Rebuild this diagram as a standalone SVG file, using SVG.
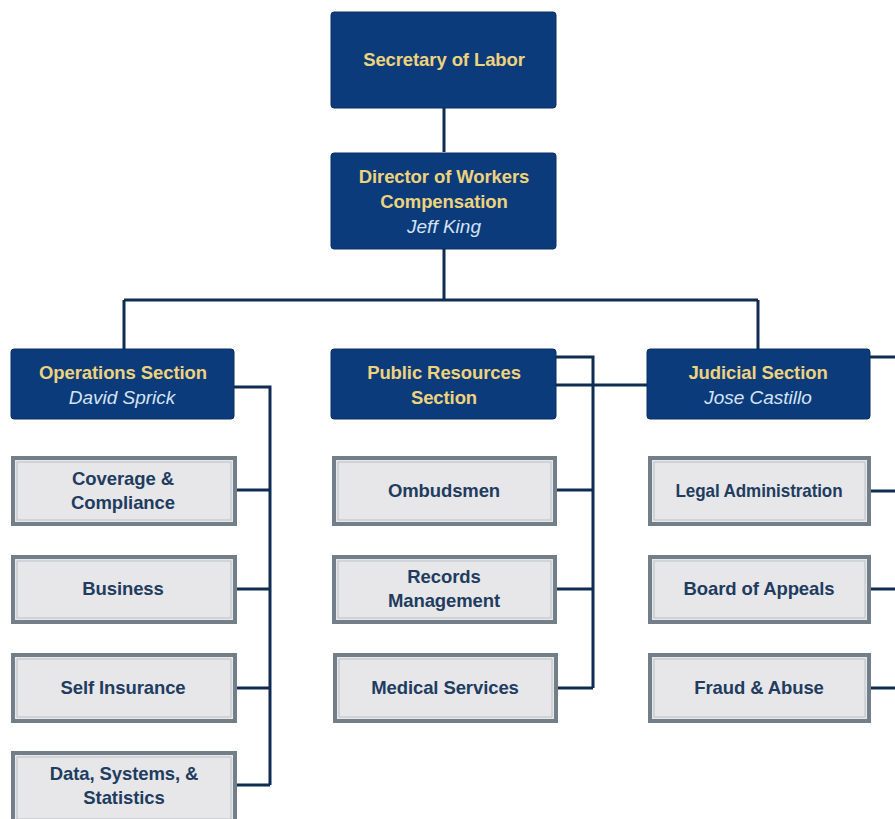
<svg xmlns="http://www.w3.org/2000/svg" width="895" height="819" viewBox="0 0 895 819">
<style>
.hd rect{fill:#0b3b7a;stroke:#0a2f63;stroke-width:1}
.hd .t{font-family:"Liberation Sans",Arial,sans-serif;font-weight:bold;font-size:18.5px;fill:#eed37e;text-anchor:middle;letter-spacing:-0.1px}
.hd .n{font-family:"Liberation Sans",Arial,sans-serif;font-style:italic;font-size:19px;fill:#d4e3f5;text-anchor:middle}
.ch .o{fill:#e7e7ea;stroke:#737f88;stroke-width:4}
.ch .i{fill:none;stroke:#b9c0c6;stroke-width:1}
.ch text{font-family:"Liberation Sans",Arial,sans-serif;font-weight:bold;font-size:18.5px;fill:#213c5f;text-anchor:middle;letter-spacing:-0.1px}
#connectors path{fill:none;stroke:#0f2d52;stroke-width:3}
</style>
<rect width="895" height="819" fill="#ffffff"/>
<g id="connectors">
<path d="M444 108V152M444 249V300M124 300H758M124 300V349M758 300V349"/>
<path d="M234 387H270V785M236 490H270M236 589H270M236 688H270M236 785H270"/>
<path d="M556 357H593V688M556 490H593M556 589H593M556 688H593M556 385H647"/>
<path d="M870 357H895M870 491H895M870 589H895M870 688H895"/>
</g>
<g id="secretary" class="hd"><rect x="331" y="12" width="225" height="96" rx="3"/><text class="t" x="444" y="66">Secretary of Labor</text></g>
<g id="director" class="hd"><rect x="331" y="153" width="225" height="96" rx="3"/><text class="t" x="444" y="183">Director of Workers</text><text class="t" x="444" y="208">Compensation</text><text class="n" x="444" y="233">Jeff King</text></g>
<g id="operations" class="hd"><rect x="11" y="349" width="223" height="70" rx="3"/><text class="t" x="123" y="379">Operations Section</text><text class="n" x="122" y="404">David Sprick</text></g>
<g id="public" class="hd"><rect x="331" y="349" width="225" height="70" rx="3"/><text class="t" x="444" y="379">Public Resources</text><text class="t" x="444" y="404">Section</text></g>
<g id="judicial" class="hd"><rect x="647" y="349" width="223" height="70" rx="3"/><text class="t" x="758" y="379">Judicial Section</text><text class="n" x="758" y="404">Jose Castillo</text></g>
<g id="coverage" class="ch"><rect class="o" x="13" y="458" width="222" height="66"/><rect class="i" x="17" y="462" width="214" height="58"/><text x="123" y="485">Coverage &amp;</text><text x="123" y="509">Compliance</text></g>
<g id="business" class="ch"><rect class="o" x="13" y="557" width="222" height="65"/><rect class="i" x="17" y="561" width="214" height="57"/><text x="123" y="595">Business</text></g>
<g id="selfins" class="ch"><rect class="o" x="13" y="655" width="222" height="66"/><rect class="i" x="17" y="659" width="214" height="58"/><text x="123" y="694">Self Insurance</text></g>
<g id="data" class="ch"><rect class="o" x="13" y="753" width="222" height="70"/><rect class="i" x="17" y="757" width="214" height="62"/><text x="124" y="780">Data, Systems, &amp;</text><text x="124" y="804">Statistics</text></g>
<g id="ombudsmen" class="ch"><rect class="o" x="334" y="458" width="221" height="66"/><rect class="i" x="338" y="462" width="213" height="58"/><text x="444" y="497">Ombudsmen</text></g>
<g id="records" class="ch"><rect class="o" x="334" y="557" width="221" height="65"/><rect class="i" x="338" y="561" width="213" height="57"/><text x="444" y="583">Records</text><text x="444" y="607">Management</text></g>
<g id="medical" class="ch"><rect class="o" x="335" y="655" width="221" height="66"/><rect class="i" x="339" y="659" width="213" height="58"/><text x="445" y="694">Medical Services</text></g>
<g id="legal" class="ch"><rect class="o" x="650" y="458" width="219" height="66"/><rect class="i" x="654" y="462" width="211" height="58"/><text x="759" y="497" textLength="167" lengthAdjust="spacingAndGlyphs">Legal Administration</text></g>
<g id="appeals" class="ch"><rect class="o" x="650" y="557" width="219" height="65"/><rect class="i" x="654" y="561" width="211" height="57"/><text x="759" y="595">Board of Appeals</text></g>
<g id="fraud" class="ch"><rect class="o" x="650" y="655" width="219" height="66"/><rect class="i" x="654" y="659" width="211" height="58"/><text x="759" y="694">Fraud &amp; Abuse</text></g>
</svg>
